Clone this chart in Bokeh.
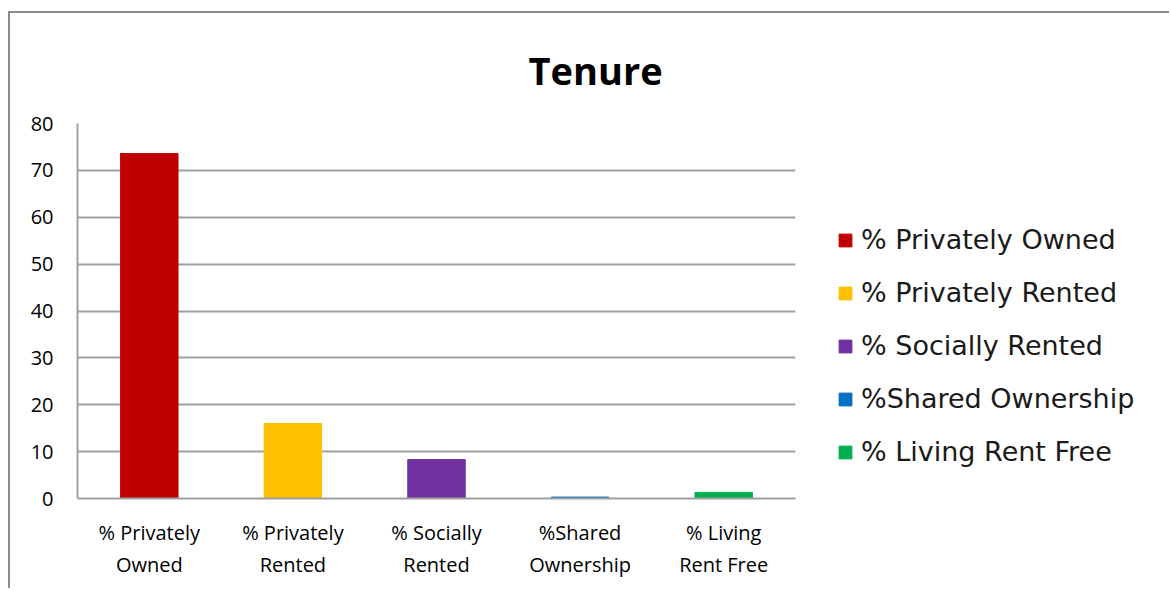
from bokeh.plotting import figure
from bokeh.models import ColumnDataSource, Legend, LegendItem, FactorRange, Title
from bokeh.layouts import row
from bokeh.embed import file_html
from bokeh.resources import INLINE

categories = ["% Privately\nOwned", "% Privately\nRented", "% Socially\nRented", "%Shared\nOwnership", "% Living\nRent Free"]
legend_labels = ["% Privately Owned", "% Privately Rented", "% Socially Rented", "%Shared Ownership", "% Living Rent Free"]
values = [73.6, 16.0, 8.3, 0.3, 1.3]
colors = ["#C00000", "#FFC000", "#7030A0", "#0070C0", "#00B050"]
y_ticks = [0, 10, 20, 30, 40, 50, 60, 70, 80]

source = ColumnDataSource(dict(cat=categories, val=values, color=colors, lab=legend_labels))

# main chart
p = figure(width=800, height=577, x_range=FactorRange(*categories, range_padding=0),
           y_range=(0, 80), output_backend="svg", toolbar_location=None,
           min_border_left=67, min_border_right=15, min_border_top=110, min_border_bottom=92)
p.styles = {"border-left": "2px solid #8c8c8c", "border-top": "2px solid #8c8c8c",
            "margin-top": "11px", "margin-left": "8px"}

r = p.vbar(x="cat", top="val", width=0.4, color="color", source=source)

p.title = Title(text="Tenure", align="left", offset=451, standoff=56,
                text_font="Open Sans", text_font_style="bold", text_font_size="38px",
                text_color="#000000")

p.outline_line_color = None
p.xgrid.grid_line_color = None
p.ygrid.grid_line_color = "#a0a0a0"
p.ygrid.grid_line_width = 2
p.yaxis.ticker = y_ticks
p.yaxis.axis_line_color = "#a0a0a0"
p.yaxis.axis_line_width = 2
p.xaxis.axis_line_color = "#a0a0a0"
p.xaxis.axis_line_width = 2
for ax in (p.xaxis, p.yaxis):
    ax.major_tick_line_color = None
    ax.minor_tick_line_color = None
    ax.major_tick_out = 0
    ax.major_tick_in = 0
    ax.major_label_text_font = "Open Sans"
    ax.major_label_text_font_size = "20px"
    ax.major_label_text_color = "#000000"
p.yaxis.major_label_standoff = 24
p.xaxis.major_label_standoff = 20

# legend panel: a separate figure whose x range holds none of the bars' factors,
# so only the legend entries are drawn
p2 = figure(width=361, height=577, x_range=FactorRange("legend"), y_range=(0, 80),
            output_backend="svg", toolbar_location=None, x_axis_type=None, y_axis_type=None,
            min_border_left=0, min_border_right=0, min_border_top=0, min_border_bottom=0)
p2.styles = {"border-top": "2px solid #8c8c8c", "margin-top": "11px"}
p2.outline_line_color = None
p2.xgrid.grid_line_color = None
p2.ygrid.grid_line_color = None
r2 = p2.vbar(x="cat", top="val", width=0.4, color="color", source=source)

items = [LegendItem(label=legend_labels[i], renderers=[r2], index=i) for i in range(len(legend_labels))]
legend = Legend(items=items, location=(29, 31), border_line_color=None, background_fill_alpha=0,
                label_text_font="DejaVu Sans", label_text_font_size="27px", label_text_color="#1a1a1a",
                glyph_width=16, glyph_height=16, label_height=24, spacing=22, label_standoff=8,
                padding=5, margin=0)
p2.add_layout(legend)

layout = row(p, p2)
open("out.html", "w").write(file_html(layout, INLINE))
